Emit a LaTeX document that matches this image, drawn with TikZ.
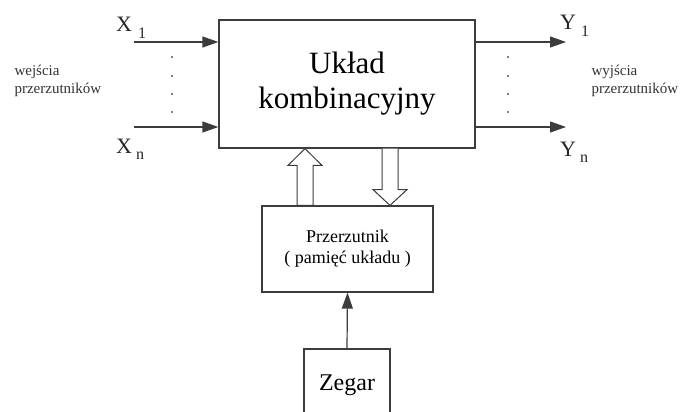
\documentclass[tikz,border=0pt]{standalone}
\usepackage{fontspec}
\setmainfont{Liberation Serif}
\usetikzlibrary{arrows.meta,calc,positioning}
\definecolor{LineGray}{RGB}{60,60,60}

\begin{document}
\begin{tikzpicture}[x=1pt,y=-1pt,
	blok/.style={draw=LineGray,line width=1.2pt,inner sep=0pt,align=center},
	wej/.style={draw=LineGray,line width=1.2pt,-{Triangle[length=16pt,width=11pt]}},
	puste/.style={draw=LineGray,line width=1pt,fill=white,line join=miter},
	kropka/.style={fill=black,circle,inner sep=0pt,minimum size=1.8pt},
	opis/.style={font=\fontsize{15}{18}\selectfont,align=left,anchor=west,text=black!80},
	sygnal/.style={font=\fontsize{22}{22}\selectfont,anchor=base west,inner sep=0pt,text=black!85}
	]
	\useasboundingbox (0,0) rectangle (683,412);
	
	% bloki
	\node[blok,minimum width=256pt,minimum height=128pt,font=\fontsize{31}{35}\selectfont] (uklad) at (347,84) {Układ\\kombinacyjny};
	\node[blok,minimum width=171pt,minimum height=86pt,font=\fontsize{18}{21}\selectfont] (prz) at (347.5,249) {Przerzutnik\\( pamięć układu )};
	\node[blok,minimum width=86pt,minimum height=72pt,font=\fontsize{24}{24}\selectfont] (zegar) at (347,385) {Zegar};
	
	% wejscia
	\coordinate (x1) at (134,42);
	\coordinate (xn) at (134,127);
	\draw[wej] (x1) -- (x1 -| uklad.west);
	\draw[wej] (xn) -- (xn -| uklad.west);
	
	% wyjscia
	\coordinate (y1) at (566,42);
	\coordinate (yn) at (566,127);
	\draw[wej] (y1 -| uklad.east) -- (y1);
	\draw[wej] (yn -| uklad.east) -- (yn);
	
	% kropki
	\foreach \yy in {57,76,94,112} {
		\node[kropka] at (172,\yy) {};
		\node[kropka] at (508,\yy) {};
	}
	
	% etykiety
	\node[sygnal] (lx1) at (116,32) {X\hspace{6pt}\raisebox{-7pt}{\fontsize{16}{16}\selectfont 1}};
	\node[sygnal] (lxn) at (116,153) {X\hspace{4pt}\raisebox{-6pt}{\fontsize{16}{16}\selectfont n}};
	\node[sygnal] (ly1) at (560,30) {Y\hspace{5pt}\raisebox{-7pt}{\fontsize{16}{16}\selectfont 1}};
	\node[sygnal] (lyn) at (560,156) {Y\hspace{4pt}\raisebox{-6pt}{\fontsize{16}{16}\selectfont n}};
	\node[opis] (lwej) at (11,81) {wejścia\\przerzutników};
	\node[opis] (lwyj) at (588,81) {wyjścia\\przerzutników};
	
	% strzalki puste
	\coordinate (gora) at ($(prz.north)+(-42.5,0)$);
	\draw[puste] (gora) ++(-8,0) -- ++(0,-40) -- ++(-9,0) -- ($(uklad.south)+(-42,0)$) -- ($(gora)+(17,-40)$) -- ++(-9,0) -- ++(0,40) -- cycle;
	\coordinate (dol) at ($(uklad.south)+(43,0)$);
	\draw[puste] (dol) ++(-8,0) -- ++(0,41) -- ++(-9,0) -- ($(prz.north)+(42.5,0)$) -- ($(dol)+(17,41)$) -- ++(-9,0) -- ++(0,-41);
	
	% zegar
	\draw[wej] (zegar.north) -- (prz.south);
\end{tikzpicture}
\end{document}
